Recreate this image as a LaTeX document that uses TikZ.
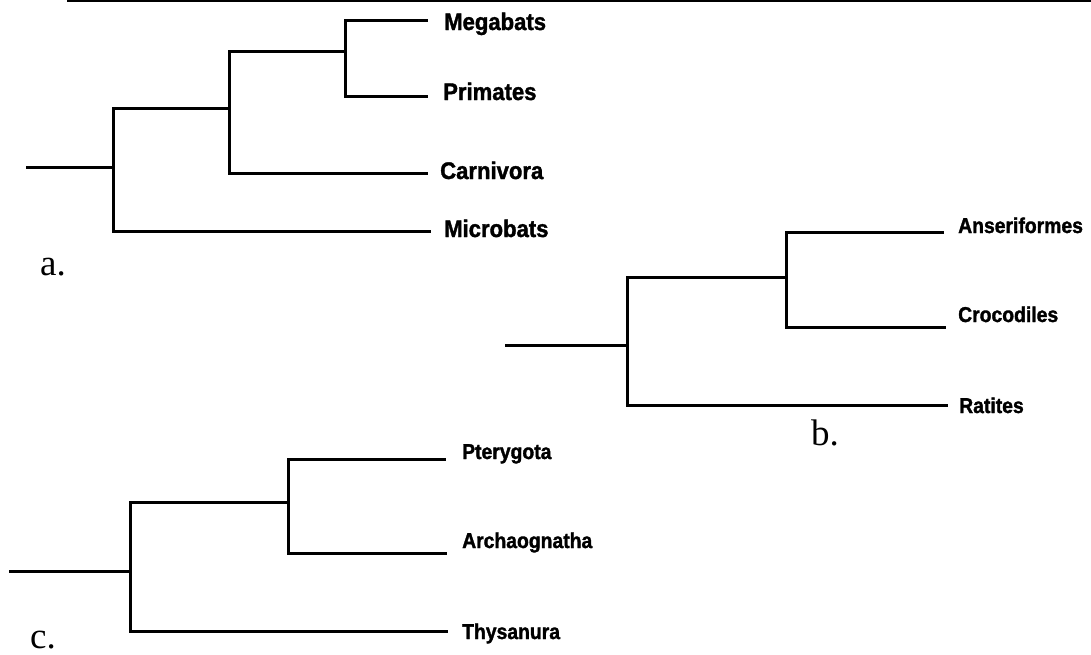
\documentclass[tikz,border=0pt]{standalone}
\usepackage{fontspec}
\setmainfont{Liberation Serif}
\newfontfamily\labfontA{Liberation Sans}[FakeBold=1.5,FakeStretch=0.92]
\newfontfamily\labfontB{Liberation Sans}[FakeBold=1.5,FakeStretch=0.9]
\begin{document}
\begin{tikzpicture}[x=1pt,y=-1pt,
  branch/.style={draw=black,line width=3pt,line join=miter,line cap=butt},
  rule/.style={draw=black,line width=2.5pt},
  taxonA/.style={anchor=base west,inner sep=0pt,font=\labfontA\bfseries\fontsize{24}{26}\selectfont},
  taxonB/.style={anchor=base west,inner sep=0pt,font=\labfontB\bfseries\fontsize{21.5}{24}\selectfont},
  panel/.style={anchor=base west,inner sep=0pt,font=\fontsize{37}{40}\selectfont}]
\useasboundingbox (0,0) rectangle (1091,654);
\fill[white] (0,0) rectangle (1091,654);
% top rule
\coordinate (tl0) at (67,1);
\coordinate (tl1) at (1091,1);
\draw[rule] (tl0) -- (tl1);

% ---------- tree a ----------
\coordinate (a0) at (26,167);
\coordinate (a1) at (113,167);
\coordinate (a2) at (229,108);
\coordinate (a3) at (345,51);
\coordinate (tMega) at (428,20);
\coordinate (tPrim) at (428,96);
\coordinate (tCarn) at (428,173);
\coordinate (tMicro) at (431,231);
\draw[branch] (a0) -- (a1);
\draw[branch] (a1) |- (a2);
\draw[branch] (a1) |- (tMicro);
\draw[branch] (a2) |- (a3);
\draw[branch] (a2) |- (tCarn);
\draw[branch] (a3) |- (tMega);
\draw[branch] (a3) |- (tPrim);
\node[taxonA] (megabats) at (444,30) {Megabats};
\node[taxonA] (primates) at (443,100) {Primates};
\node[taxonA] (carnivora) at (440,179) {Carnivora};
\node[taxonA] (microbats) at (444,237) {Microbats};
\node[panel] (la) at (40,275) {a.};

% ---------- tree b ----------
\coordinate (b0) at (505,345);
\coordinate (b1) at (627,345);
\coordinate (b2) at (786,277);
\coordinate (tAnser) at (944,232);
\coordinate (tCroc) at (946,327);
\coordinate (tRat) at (948,405);
\draw[branch] (b0) -- (b1);
\draw[branch] (b1) |- (b2);
\draw[branch] (b1) |- (tRat);
\draw[branch] (b2) |- (tAnser);
\draw[branch] (b2) |- (tCroc);
\node[taxonB] (anser) at (958,233) {Anseriformes};
\node[taxonB] (croc) at (958,322) {Crocodiles};
\node[taxonB] (ratites) at (959,413) {Ratites};
\node[panel] (lb) at (811,445) {b.};

% ---------- tree c ----------
\coordinate (c0) at (9,571);
\coordinate (c1) at (130,571);
\coordinate (c2) at (288,502);
\coordinate (tPter) at (446,459);
\coordinate (tArch) at (447,553);
\coordinate (tThys) at (448,631);
\draw[branch] (c0) -- (c1);
\draw[branch] (c1) |- (c2);
\draw[branch] (c1) |- (tThys);
\draw[branch] (c2) |- (tPter);
\draw[branch] (c2) |- (tArch);
\node[taxonB] (pter) at (462,459) {Pterygota};
\node[taxonB] (arch) at (462,548) {Archaognatha};
\node[taxonB] (thys) at (462,639) {Thysanura};
\node[panel] (lc) at (30,648) {c.};
\end{tikzpicture}
\end{document}
